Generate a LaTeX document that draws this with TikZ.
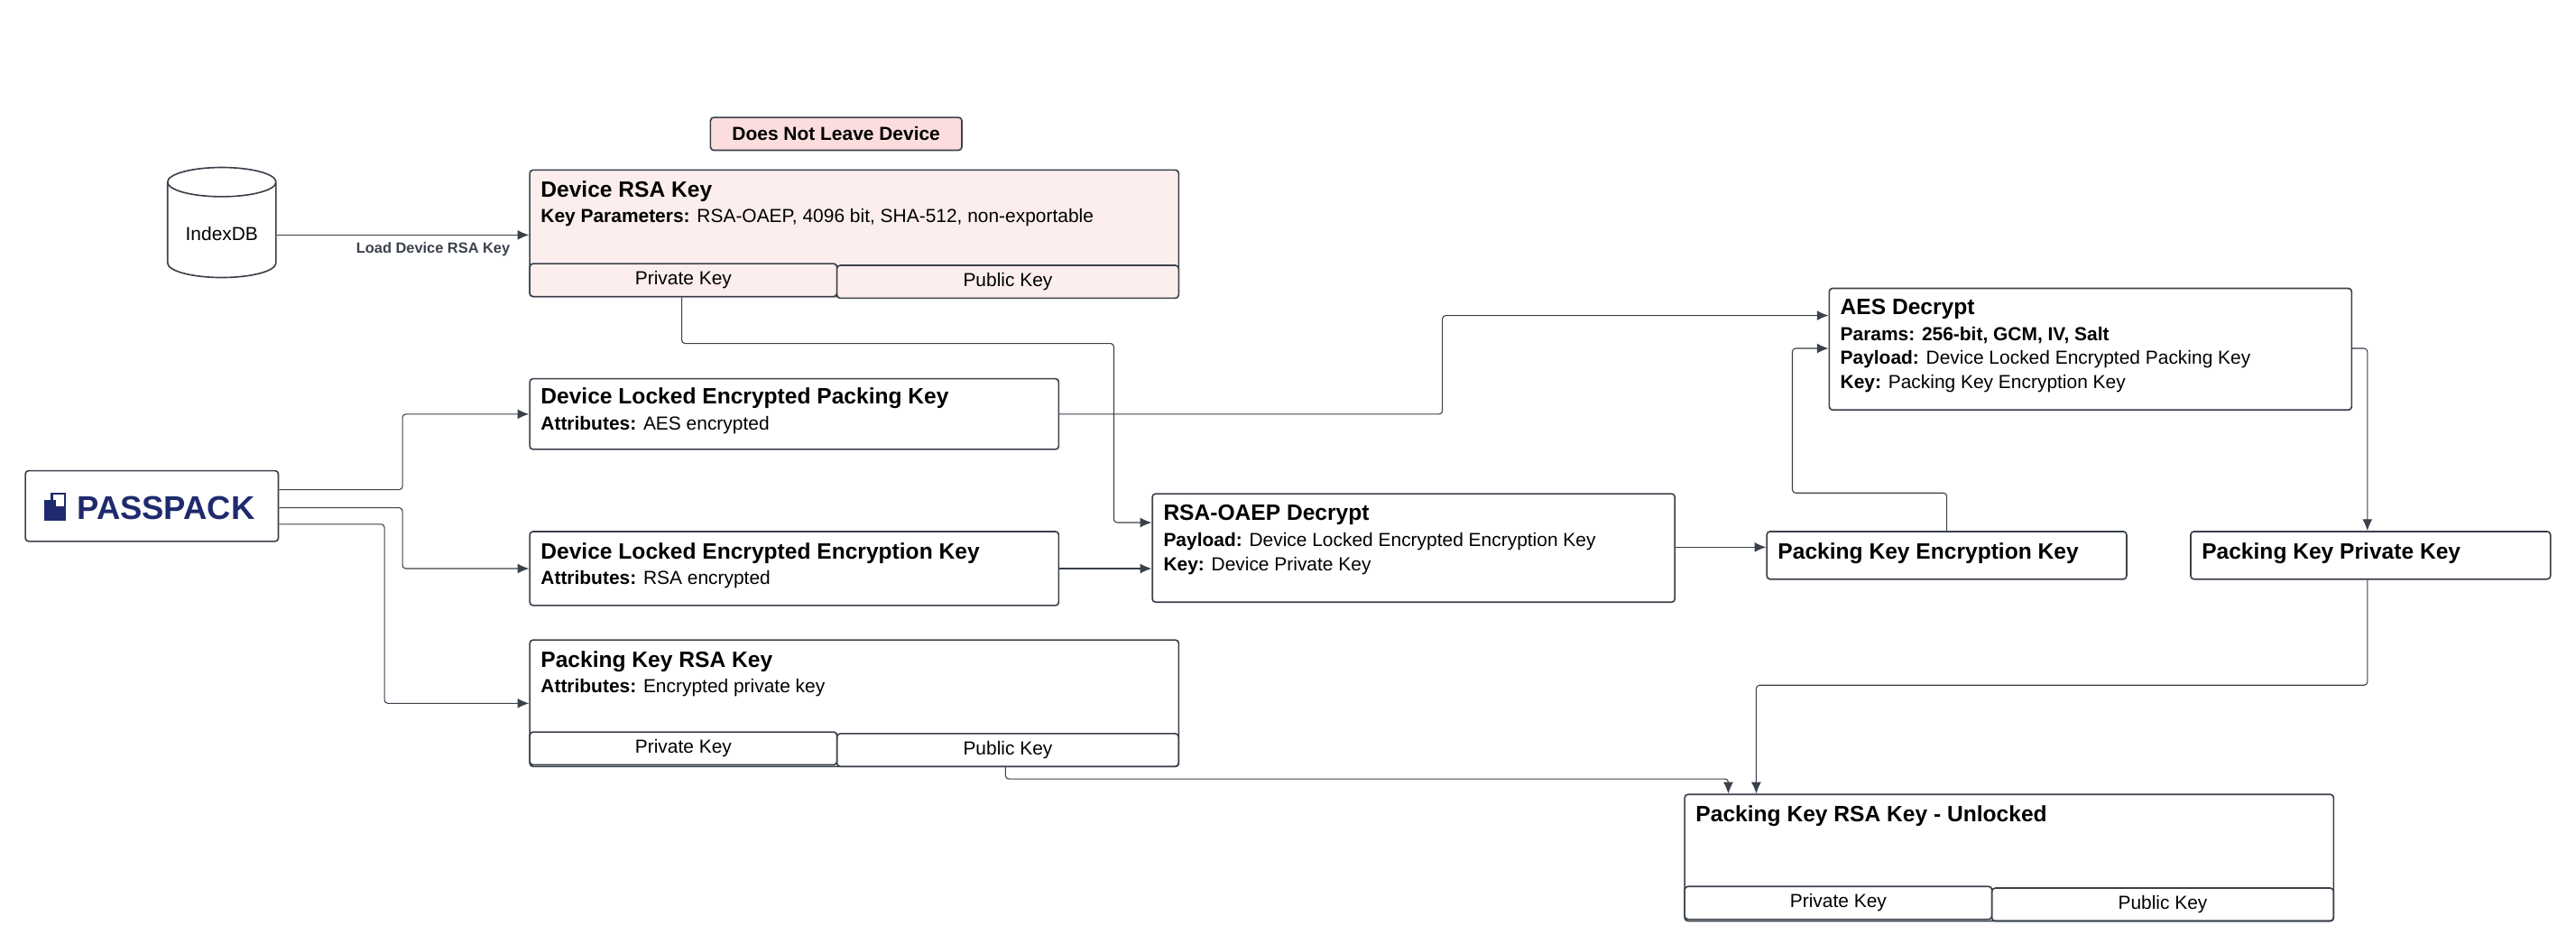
\documentclass[tikz,border=0pt]{standalone}
\usepackage{fontspec}
\setmainfont{Liberation Sans}
\usetikzlibrary{shapes.geometric,arrows.meta}
\definecolor{ln}{HTML}{3A414A}
\definecolor{pk}{HTML}{FDEEEE}
\definecolor{pk2}{HTML}{FCDDDD}
\definecolor{navy}{HTML}{1F2A6E}
\begin{document}
\begin{tikzpicture}[x=1pt,y=-1pt,
  box/.style={draw=ln,line width=0.9pt,rounded corners=2pt,anchor=north west,inner sep=0pt},
  ttl/.style={anchor=north west,inner sep=0pt,font=\fontsize{13.5}{15}\selectfont\bfseries},
  bod/.style={anchor=north west,inner sep=0pt,font=\fontsize{11.5}{13}\selectfont},
  sub/.style={font=\fontsize{11.5}{13}\selectfont},
  con/.style={draw=ln,line width=0.6pt,rounded corners=2pt,-{Latex[length=7pt,width=6pt]}}]
\useasboundingbox (0,0) rectangle (1568,574);
% Does not leave device
\node[box,fill=pk2,minimum width=153pt,minimum height=20pt,font=\fontsize{11.5}{13}\selectfont\bfseries] (dnl) at (432,71) {Does Not Leave Device};
% IndexDB
\node[cylinder,shape border rotate=90,draw=ln,line width=0.9pt,minimum width=66pt,minimum height=67pt,aspect=0.35,font=\fontsize{11.5}{13}\selectfont] (idb) at (135,142) {IndexDB};
% Device RSA key
\node[box,fill=pk,minimum width=395pt,minimum height=77pt] (drsa) at (322,103) {};
\node[ttl] (drsat) at (329,110) {Device RSA Key};
\node[bod] (drsab) at (329,127) {\textbf{Key Parameters:} RSA-OAEP, 4096 bit, SHA-512, non-exportable};
\node[box,fill=pk,minimum width=187pt,minimum height=20pt,sub] (dpriv) at (322,160) {Private Key};
\node[box,fill=pk,minimum width=208pt,minimum height=20pt,sub] (dpub) at (509,161) {Public Key};
% Passpack
\node[box,minimum width=154pt,minimum height=43pt] (pp) at (15,286) {};
\node[font=\fontsize{20}{22}\selectfont\bfseries,text=navy,inner sep=0pt] (ppt) at (101,309) {PASSPACK};
\fill[navy] (27,304) rectangle (34,317);
\fill[navy] (27,310) rectangle (40,317);
\draw[navy,line width=1.3pt] (31.5,300.5) rectangle (39.5,309);
% DLEPK
\node[box,minimum width=322pt,minimum height=43pt] (dlepk) at (322,230) {};
\node[ttl] at (329,236) {Device Locked Encrypted Packing Key};
\node[bod] at (329,253) {\textbf{Attributes:} AES encrypted};
% DLEEK
\node[box,minimum width=322pt,minimum height=45pt] (dleek) at (322,323) {};
\node[ttl] at (329,330) {Device Locked Encrypted Encryption Key};
\node[bod] at (329,347) {\textbf{Attributes:} RSA encrypted};
% Packing key RSA
\node[box,minimum width=395pt,minimum height=77pt] (pkrsa) at (322,389) {};
\node[ttl] at (329,396) {Packing Key RSA Key};
\node[bod] at (329,413) {\textbf{Attributes:} Encrypted private key};
\node[box,minimum width=187pt,minimum height=20pt,sub] (ppriv) at (322,445) {Private Key};
\node[box,minimum width=208pt,minimum height=20pt,sub] (ppub) at (509,446) {Public Key};
% RSA-OAEP decrypt
\node[box,minimum width=318pt,minimum height=66pt] (rsad) at (701,300) {};
\node[ttl] at (708,307) {RSA-OAEP Decrypt};
\node[bod] at (708,324) {\textbf{Payload:} Device Locked Encrypted Encryption Key};
\node[bod] at (708,339) {\textbf{Key:} Device Private Key};
% AES decrypt
\node[box,minimum width=318pt,minimum height=74pt] (aes) at (1113,175) {};
\node[ttl] at (1120,182) {AES Decrypt};
\node[bod] at (1120,199) {\textbf{Params: 256-bit, GCM, IV, Salt}};
\node[bod] at (1120,213) {\textbf{Payload:} Device Locked Encrypted Packing Key};
\node[bod] at (1120,228) {\textbf{Key:} Packing Key Encryption Key};
% PKEK / PKPK
\node[box,minimum width=219pt,minimum height=29pt] (pkek) at (1075,323) {};
\node[ttl] at (1082,330) {Packing Key Encryption Key};
\node[box,minimum width=219pt,minimum height=29pt] (pkpk) at (1333,323) {};
\node[ttl] at (1340,330) {Packing Key Private Key};
% Unlocked
\node[box,minimum width=395pt,minimum height=77pt] (unl) at (1025,483) {};
\node[ttl] at (1032,490) {Packing Key RSA Key - Unlocked};
\node[box,minimum width=187pt,minimum height=20pt,sub] (upriv) at (1025,539) {Private Key};
\node[box,minimum width=208pt,minimum height=20pt,sub] (upub) at (1212,540) {Public Key};
% connectors
\draw[con] (idb.east |- 0,143) -- (drsa.west |- 0,143) node[pos=0.62,below=1pt,text=ln,font=\fontsize{9}{10}\selectfont\bfseries] {Load Device RSA Key};
\draw[con] (pp.east |- 0,298) -| (245,252) -- (dlepk.west |- 0,252);
\draw[con] (pp.east |- 0,309) -| (245,346) -- (dleek.west |- 0,346);
\draw[con] (pp.east |- 0,319) -| (234,428) -- (pkrsa.west |- 0,428);
\draw[con] (dpriv.south -| 415,0) |- (678,209) |- (rsad.west |- 0,318);
\draw[con] (dleek.east |- 0,346) -- (rsad.west |- 0,346);
\draw[con] (dlepk.east |- 0,252) -| (878,192) -- (aes.west |- 0,192);
\draw[con] (rsad.east |- 0,333) -- (pkek.west |- 0,333);
\draw[con] (pkek.north -| 1185,0) |- (1091,300) |- (aes.west |- 0,212);
\draw[con] (aes.east |- 0,212) -| (pkpk.north -| 1441,0);
\draw[con] (pkpk.south -| 1441,0) |- (1069,417) -- (unl.north -| 1069,0);
\draw[con] (ppub.south -| 612,0) |- (1052,474) -- (unl.north -| 1052,0);
\end{tikzpicture}
\end{document}
